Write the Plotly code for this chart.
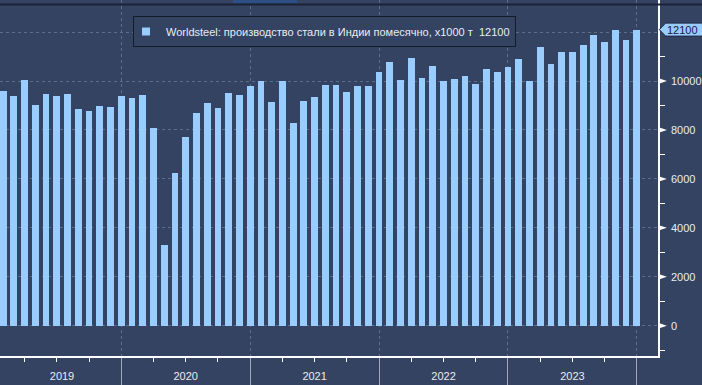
import plotly.graph_objects as go

# ---- data (Worldsteel, India monthly crude steel production, thousand tonnes) ----
months = [f"{y}-{m:02d}" for y in range(2019, 2024) for m in range(1, 13)]
values_2019 = [9600, 9400, 10050, 9030, 9480, 9390, 9480, 8860, 8780, 8990, 8950, 9390]
values_2020 = [9310, 9440, 8090, 3300, 6250, 7720, 8700, 9110, 8900, 9520, 9440, 9800]
values_2021 = [10010, 9150, 10010, 8290, 9190, 9350, 9840, 9840, 9560, 9800, 9800, 10370]
values_2022 = [10790, 10050, 10950, 10130, 10620, 10010, 10090, 10210, 9890, 10500, 10380, 10580]
values_2023 = [10910, 10010, 11400, 10700, 11190, 11190, 11480, 11890, 11600, 12090, 11690, 12100]
values = values_2019 + values_2020 + values_2021 + values_2022 + values_2023
years = ["2019", "2020", "2021", "2022", "2023"]
y_ticks = [0, 2000, 4000, 6000, 8000, 10000, 12000]
y_ticklabels = ["0", "2000", "4000", "6000", "8000", "10000", ""]
y_minor = [-1000, 1000, 3000, 5000, 7000, 9000, 11000]
series_name = "Worldsteel: производство стали в Индии помесячно, х1000 т  12100"

# month index (bar plotted at month end): Jan 2019 -> 1 ... Dec 2023 -> 60
xpos = list(range(1, len(values) + 1))
year_bounds = [12, 24, 36, 48, 60]
quarter_ticks = [q for q in range(3, 61, 3) if q % 12 != 0]
year_label_pos = [6.48, 18, 30, 42, 54]

BG = "#344362"
BAR = "#99CCFF"
GRID = "#5d6d8c"
FONT = "Liberation Sans, Arial, sans-serif"
last_val = values[-1]

XR = [0.708, 61.97]
YR = [-1238, 13310]


def py(v):
    """value on the y axis -> paper fraction (for decorations outside the plot area)"""
    return (v - YR[0]) / (YR[1] - YR[0])


fig = go.Figure()
fig.add_trace(go.Bar(x=xpos, y=values, marker=dict(color=BAR, line=dict(width=0)),
                     width=0.63, showlegend=False, hoverinfo="x+y"))
# legend proxy (small square symbol)
fig.add_trace(go.Scatter(x=[None], y=[None], mode="markers", name=series_name,
                         marker=dict(symbol="square", size=8, color=BAR), showlegend=True))
# invisible trace so the label axis renders
fig.add_trace(go.Scatter(x=[None], y=[None], xaxis="x2", showlegend=False, hoverinfo="skip"))

fig.update_layout(
    width=702, height=385,
    margin=dict(l=0, r=44, t=0, b=29, autoexpand=False),
    paper_bgcolor=BG, plot_bgcolor=BG,
    font=dict(family=FONT, size=11, color="#e8ecf2"),
    bargap=0,
    xaxis=dict(range=XR, tickmode="array", tickvals=year_bounds, showticklabels=False,
               ticks="outside", ticklen=29, tickcolor="#a3a8b2", tickwidth=1,
               showgrid=True, gridcolor=GRID, griddash="3px,3px", gridwidth=1,
               showline=True, linecolor="#ffffff", linewidth=1.5, zeroline=False,
               automargin=False,
               minor=dict(tickmode="array", tickvals=quarter_ticks, ticks="outside",
                          ticklen=4, tickcolor="#ffffff", showgrid=False)),
    xaxis2=dict(range=XR, overlaying="x", anchor="y", side="bottom", tickmode="array",
                tickvals=year_label_pos, ticktext=years, ticks="", showgrid=False,
                showline=False, zeroline=False, ticklabelstandoff=12, automargin=False,
                tickfont=dict(size=11, color="#e8ecf2")),
    yaxis=dict(range=YR, side="right", tickmode="array", tickvals=y_ticks,
               ticktext=y_ticklabels, ticks="", ticklabelstandoff=9, automargin=False,
               showgrid=True, gridcolor=GRID, griddash="3px,3px", gridwidth=1,
               showline=True, linecolor="#ffffff", linewidth=1.5, zeroline=False,
               tickfont=dict(size=11, color="#e8ecf2"),
               minor=dict(tickmode="array", tickvals=y_minor, ticks="outside",
                          ticklen=5, tickcolor="#ffffff", showgrid=False)),
    legend=dict(x=133 / 658, y=1 - 16 / 356, xanchor="left", yanchor="top",
                bgcolor=BG, bordercolor="#141b29", borderwidth=1, indentation=-8,
                font=dict(size=11, color="#e8ecf2", family=FONT),
                itemclick=False, itemdoubleclick=False),
)

shapes = []
# triangle tick markers on the right axis
for v in y_ticks[:-1]:
    shapes.append(dict(type="path", xref="paper", yref="paper",
                       path=f"M 1.0,{py(v + 120)} L 1.0,{py(v - 120)} L 1.0135,{py(v)} Z",
                       fillcolor="#ffffff", line=dict(width=0)))
# last value flag
shapes.append(dict(type="path", xref="paper", yref="paper",
                   path=(f"M 1.002,{py(last_val)} L 1.0115,{py(last_val + 265)} "
                         f"L 1.075,{py(last_val + 265)} L 1.075,{py(last_val - 265)} "
                         f"L 1.0115,{py(last_val - 265)} Z"),
                   fillcolor=BAR, line=dict(color="#1c2640", width=1)))
# top UI separator
shapes.append(dict(type="line", xref="paper", yref="paper", x0=0, x1=1.07,
                   y0=1 - 4.5 / 356, y1=1 - 4.5 / 356, line=dict(color="#1b2436", width=2)))
shapes.append(dict(type="rect", xref="paper", yref="paper", x0=233 / 658, x1=297 / 658,
                   y0=1 - 3 / 356, y1=1.0, fillcolor="#2c4f86", line=dict(width=0)))
fig.update_layout(shapes=shapes)

fig.add_annotation(x=1.0375, xref="paper", y=py(last_val), yref="paper", text=f"{last_val}",
                   xanchor="center", yanchor="middle",
                   showarrow=False, font=dict(size=11, color="#15203a", family=FONT))

fig.write_html("out.html", config={"displayModeBar": False},
               post_script="document.body.style.margin='0';document.body.style.background='" + BG + "';")
